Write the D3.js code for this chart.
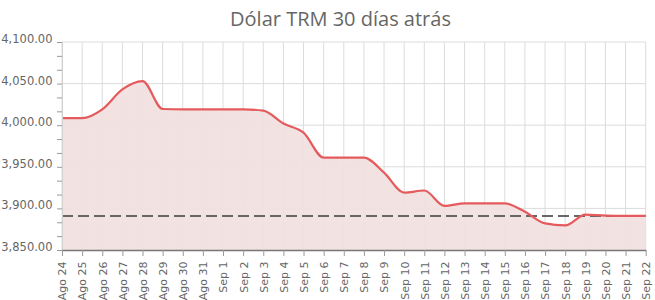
<!DOCTYPE html>
<html>
<head>
<meta charset="utf-8">
<script src="https://cdn.jsdelivr.net/npm/d3@7"></script>
<style>
  html, body { margin: 0; padding: 0; background: #fff; }
  svg { display: block; }
</style>
</head>
<body>
<div id="chart"></div>
<script>
const categories = ["Ago 24","Ago 25","Ago 26","Ago 27","Ago 28","Ago 29","Ago 30","Ago 31",
  "Sep 1","Sep 2","Sep 3","Sep 4","Sep 5","Sep 6","Sep 7","Sep 8","Sep 9","Sep 10","Sep 11",
  "Sep 12","Sep 13","Sep 14","Sep 15","Sep 16","Sep 17","Sep 18","Sep 19","Sep 20","Sep 21","Sep 22"];
const trmValues = [4008.5, 4008.5, 4019, 4043, 4053, 4019.5, 4019, 4019,
  4019, 4019, 4017.5, 4002, 3991, 3961, 3961, 3961, 3943, 3919, 3921.5,
  3903, 3906, 3906, 3906, 3896, 3882, 3879.5, 3892.5, 3891.3, 3891, 3891];
const referenceValue = 3890.8;
const yTickValues = [3850, 3900, 3950, 4000, 4050, 4100];
const title = "Dólar TRM 30 días atrás";

(function () {
const W = 655, H = 300;
const mLeft = 62, mRight = 645.7, mTop = 42, mBottom = 250;

const svg = d3.select("#chart").append("svg").attr("width", W).attr("height", H);

const x = d3.scalePoint().domain(categories).range([mLeft, mRight]);
const y = d3.scaleLinear().domain([3850, 4100]).range([mBottom, mTop]);

// title
svg.append("text")
  .attr("x", 340.5).attr("y", 26)
  .attr("text-anchor", "middle")
  .attr("font-family", "'Open Sans', sans-serif")
  .attr("font-size", 20)
  .attr("fill", "#666")
  .text(title);

// grid
const grid = svg.append("g");
grid.selectAll("line.v").data(categories).join("line").attr("class", "v")
  .attr("x1", d => x(d)).attr("x2", d => x(d))
  .attr("y1", mTop).attr("y2", mBottom)
  .attr("stroke", "#dcdcdc").attr("stroke-width", 1);
grid.selectAll("line.h").data(yTickValues).join("line").attr("class", "h")
  .attr("x1", mLeft).attr("x2", mRight)
  .attr("y1", d => y(d)).attr("y2", d => y(d))
  .attr("stroke", "#dcdcdc").attr("stroke-width", 1);

// area + line
const area = d3.area().x((d, i) => x(categories[i])).y0(mBottom).y1(d => y(d)).curve(d3.curveMonotoneX);
const line = d3.line().x((d, i) => x(categories[i])).y(d => y(d)).curve(d3.curveMonotoneX);

svg.append("path").datum(trmValues).attr("d", area)
  .attr("fill", "#f1dfdf").attr("fill-opacity", 0.92);

// reference dashed line
svg.append("line")
  .attr("x1", mLeft).attr("x2", mRight)
  .attr("y1", y(referenceValue)).attr("y2", y(referenceValue))
  .attr("stroke", "#666").attr("stroke-width", 2)
  .attr("stroke-dasharray", "11,5");

svg.append("path").datum(trmValues).attr("d", line)
  .attr("fill", "none").attr("stroke", "#e55a5c").attr("stroke-width", 2.2)
  .attr("stroke-linejoin", "round");

// y axis
const yAxis = d3.axisLeft(y)
  .tickValues(d3.range(3850, 4100.01, 50 / 3))
  .tickSize(5)
  .tickFormat(d => {
    const r = Math.round(d);
    return yTickValues.includes(r) && Math.abs(d - r) < 0.01 ? d3.format(",.2f")(r) : "";
  });
const gy = svg.append("g").attr("transform", `translate(${mLeft},0)`).call(yAxis);
gy.select(".domain").attr("stroke", "#d0d0d0");
gy.selectAll(".tick line").attr("stroke", "#999");
gy.selectAll(".tick text")
  .attr("font-family", "'DejaVu Sans', sans-serif")
  .attr("font-size", 11.5).attr("fill", "#666")
  .attr("x", -9.5).attr("dy", "0.05em");

// x axis
const xAxis = d3.axisBottom(x).tickSize(6).tickSizeOuter(0);
const gx = svg.append("g").attr("transform", `translate(0,${mBottom})`).call(xAxis);
gx.select(".domain").attr("stroke", "#777").attr("stroke-width", 1.5);
gx.selectAll(".tick line").attr("stroke", "#999");
gx.selectAll(".tick text")
  .attr("font-family", "'DejaVu Sans', sans-serif")
  .attr("font-size", 11).attr("fill", "#666")
  .attr("text-anchor", "end")
  .attr("transform", "rotate(-90)")
  .attr("x", -11.5).attr("y", 0).attr("dy", "0.35em");
})();
</script>
</body>
</html>
